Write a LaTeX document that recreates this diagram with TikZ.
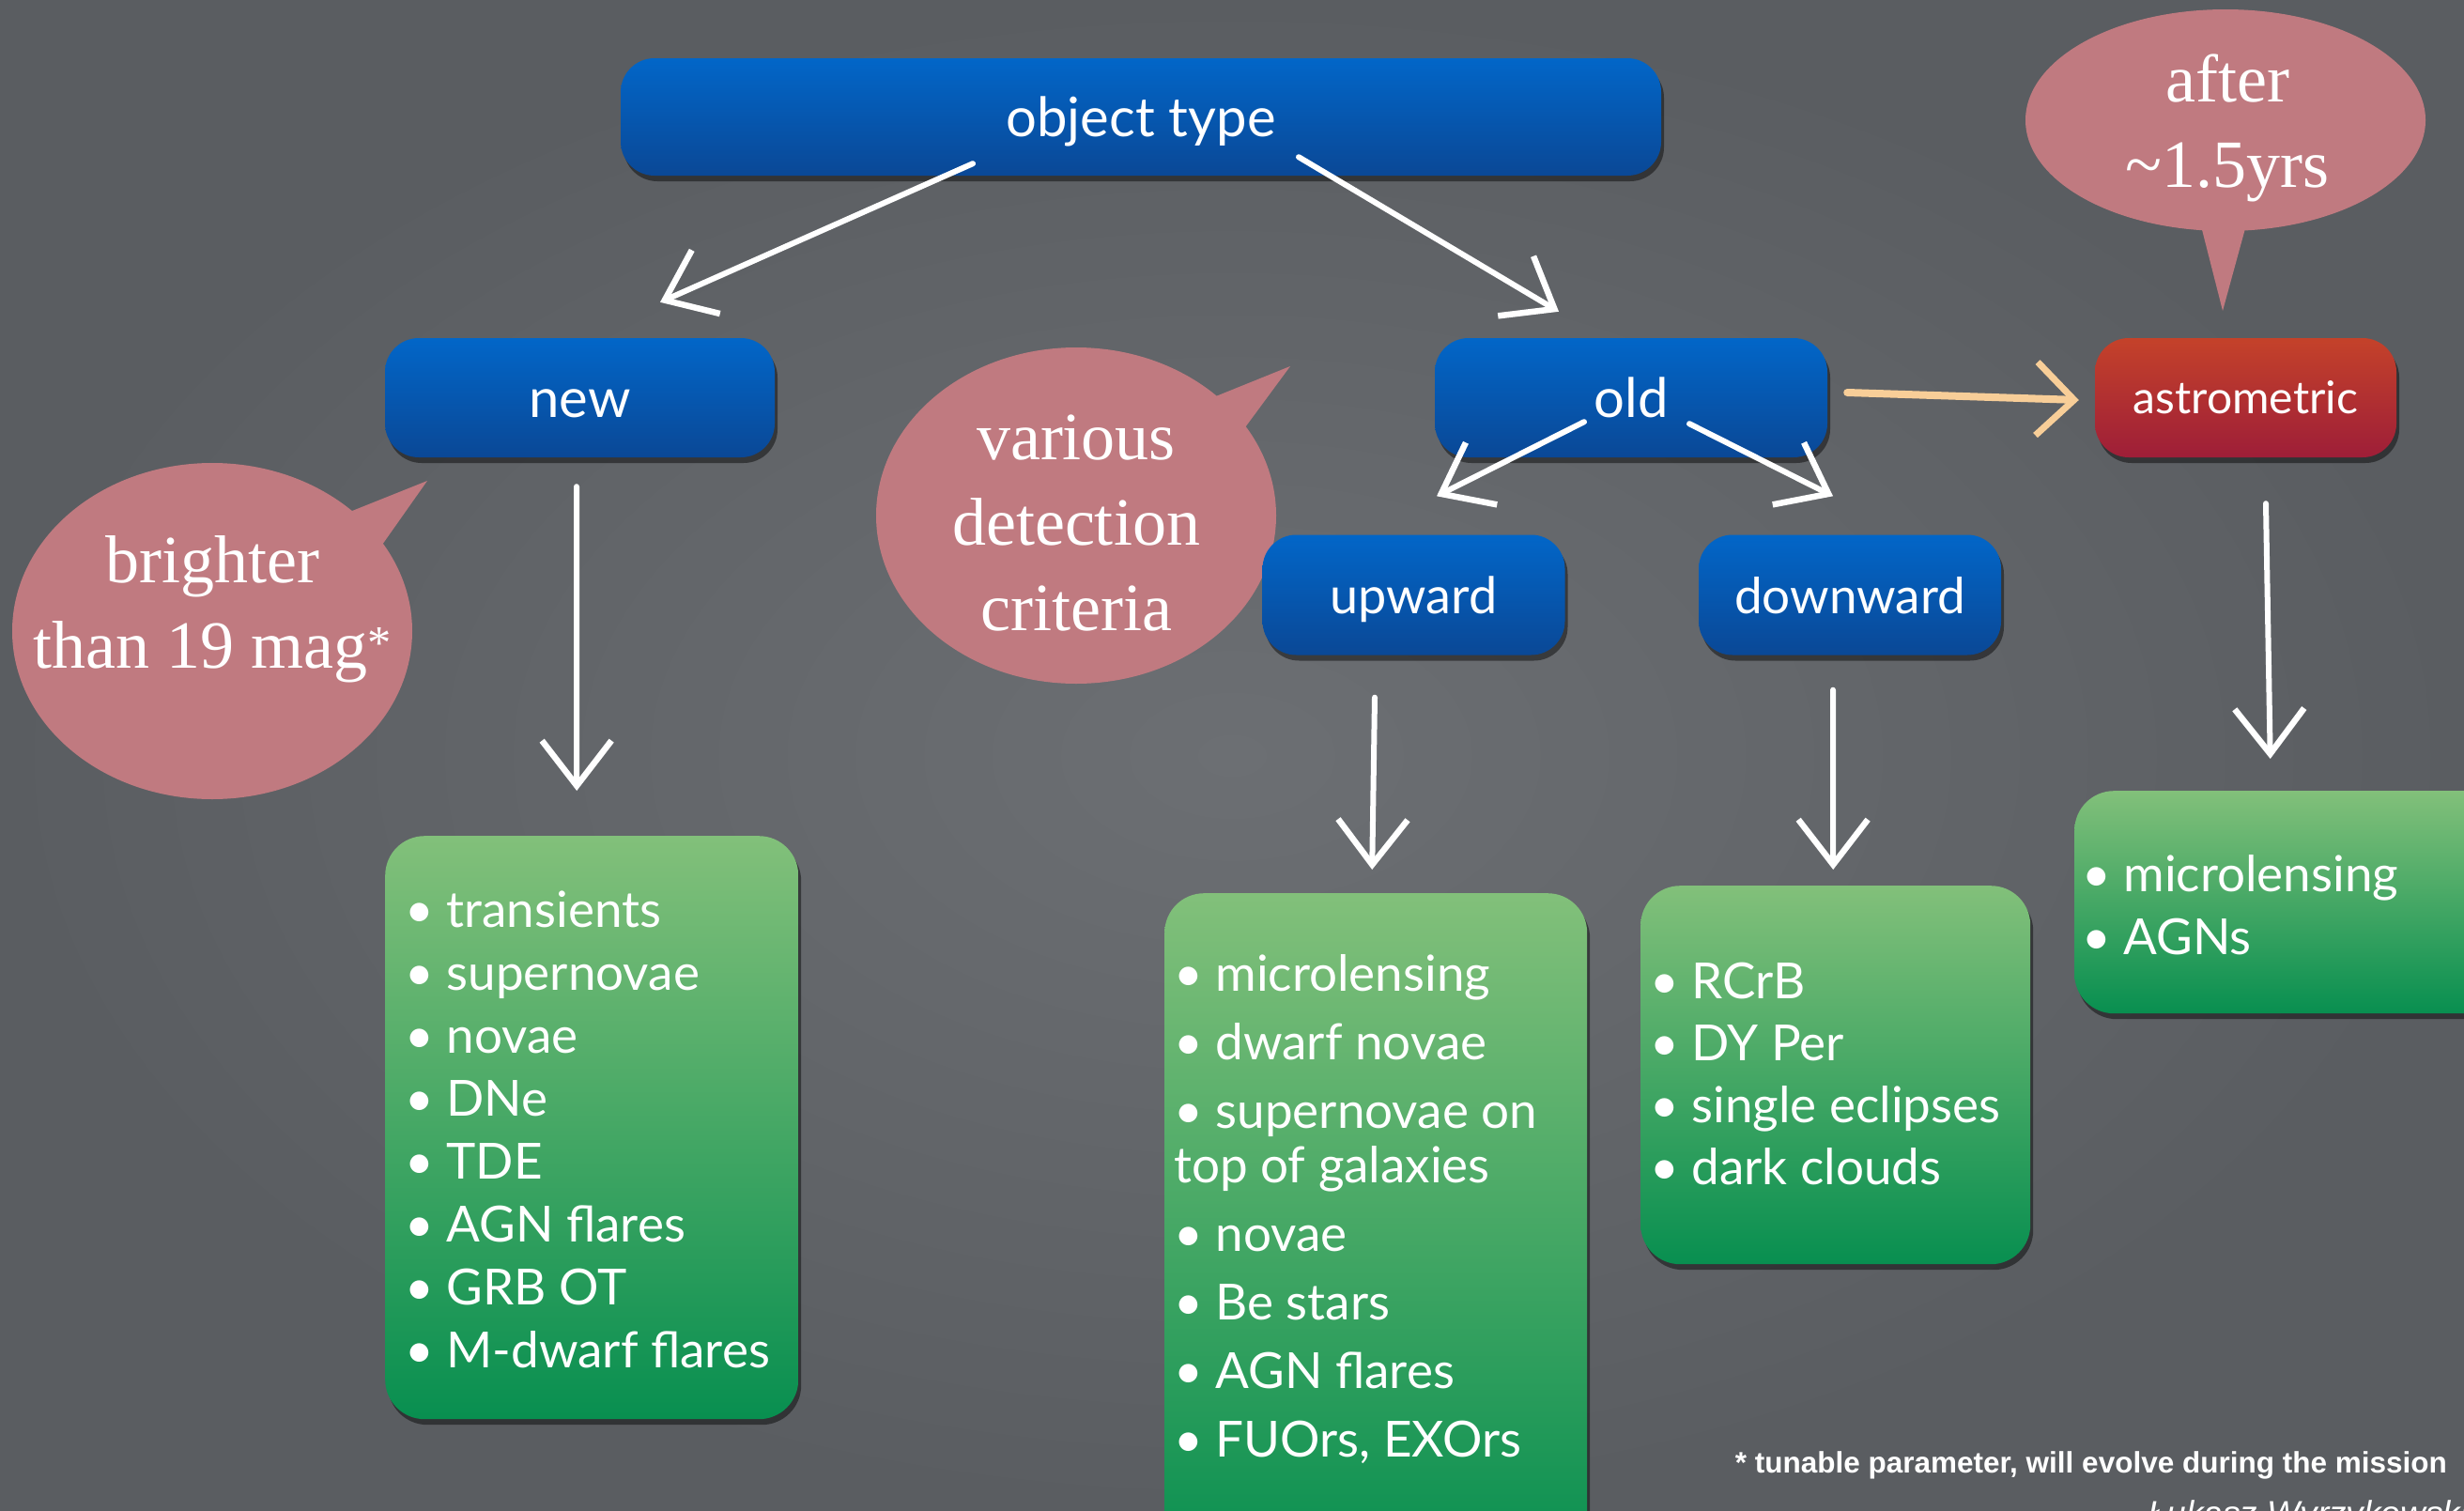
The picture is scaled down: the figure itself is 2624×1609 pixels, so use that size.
\documentclass[tikz,border=0pt]{standalone}
\usepackage{fontspec}
\setmainfont{Liberation Serif}
\newfontfamily\boxfont{Lato}
\newfontfamily\notefont{Liberation Sans}
\usetikzlibrary{arrows.meta,shadows,calc,shapes.geometric}
\definecolor{bgin}{RGB}{108,111,115}
\definecolor{bgout}{RGB}{90,93,97}
\definecolor{blueT}{RGB}{2,102,200}
\definecolor{blueB}{RGB}{10,72,150}
\definecolor{redT}{RGB}{196,66,42}
\definecolor{redB}{RGB}{158,30,56}
\definecolor{greenT}{RGB}{130,192,122}
\definecolor{greenB}{RGB}{8,143,80}
\definecolor{bubble}{RGB}{192,122,128}
\definecolor{peach}{RGB}{248,206,152}
\newcommand{\leftlines}[1]{\begin{tabular}[t]{@{}l@{}}#1\end{tabular}}
\newcommand{\centerlines}[1]{\begin{tabular}[t]{@{}c@{}}#1\end{tabular}}
\begin{document}
\begin{tikzpicture}[x=1pt,y=-1pt,
  shadowed/.style={drop shadow={shadow xshift=3pt,shadow yshift=-6pt,opacity=0.45,fill=black}},
  bluebox/.style={shadowed,rounded corners=36pt,top color=blueT,bottom color=blueB,draw=none,
    text=white,inner sep=0pt,text height=42pt,text depth=0pt,font=\boxfont\fontsize{58}{64}\selectfont},
  redbox/.style={shadowed,rounded corners=36pt,top color=redT,bottom color=redB,draw=none,
    text=white,inner sep=0pt,text height=34pt,text depth=0pt,font=\boxfont\fontsize{48}{54}\selectfont},
  greenbox/.style={shadowed,rounded corners=42pt,top color=greenT,bottom color=greenB,draw=none,inner sep=0pt},
  listtext/.style={text=white,inner sep=0pt,anchor=base west,font=\boxfont\fontsize{53}{67}\selectfont},
  bubblebox/.style={ellipse,fill=bubble,draw=none,inner sep=0pt,minimum width=426pt},
  bubbletext/.style={text=white,inner sep=0pt,anchor=base,font=\fontsize{72}{91}\selectfont},
  chalk/.style={draw=white,line width=6pt,line cap=round,
    -{Straight Barb[length=48pt,width=74pt,line width=6.5pt]}},
  orangechalk/.style={draw=peach,line width=8pt,line cap=round,
    -{Straight Barb[length=40pt,width=78pt,line width=7pt]}}]
% background
\shade[inner color=bgin,outer color=bgout] (0,0) rectangle (2624,1609);
\useasboundingbox (0,0) rectangle (2624,1609);

% bubbles
\node[bubblebox,minimum height=358pt] (bub1) at (226,672) {};
\fill[bubble] (455,512) -- ($(bub1.center)+(134,-122)$) -- ($(bub1.center)+(174,-82)$) -- cycle;
\node[bubbletext] (bub1t) at (226,620) {\centerlines{brighter\\than 19 mag\textsuperscript{*}}};

\node[bubblebox,minimum height=358pt] (bub2) at (1146,549) {};
\fill[bubble] (1374,390) -- ($(bub2.center)+(129,-119)$) -- ($(bub2.center)+(169,-79)$) -- cycle;
\node[bubbletext] (bub2t) at (1146,489) {\centerlines{various\\detection\\criteria}};

\node[bubblebox,minimum height=236pt] (bub3) at (2370,128) {};
\fill[bubble] (2367,331) -- ($(bub3.center)+(-30,97)$) -- ($(bub3.center)+(26,97)$) -- cycle;
\node[bubbletext] (bub3t) at (2372,108) {\centerlines{after\\\textasciitilde1.5yrs}};

% blue / red boxes
\node[bluebox,minimum width=1108pt,minimum height=125pt] (objtype) at (1215,124.5) {object type};
\node[bluebox,minimum width=415pt,minimum height=127pt] (new) at (617.5,423.5) {new};
\node[bluebox,minimum width=418pt,minimum height=127pt] (old) at (1737,423.5) {old};
\node[redbox,minimum width=321pt,minimum height=127pt] (astro) at (2391.5,423.5) {astrometric};
\node[bluebox,minimum width=322pt,minimum height=128pt,text height=39pt,font=\boxfont\fontsize{54}{60}\selectfont] (upward) at (1505.5,633.5) {upward};
\node[bluebox,minimum width=322pt,minimum height=128pt,text height=39pt,font=\boxfont\fontsize{53}{60}\selectfont] (downward) at (1970,633.5) {downward};

% green list boxes
\node[greenbox,anchor=north west,minimum width=440pt,minimum height=621pt] (newlist) at (410,890) {};
\node[listtext] (newlistt) at (431,987) {\leftlines{• transients\\• supernovae\\• novae\\• DNe\\• TDE\\• AGN flares\\• GRB OT\\• M-dwarf flares}};

\node[greenbox,anchor=north west,minimum width=450pt,minimum height=720pt] (uplist) at (1240,951) {};
\node[listtext,font=\boxfont\fontsize{53}{58}\selectfont] (uplistt) at (1250,1055) {\leftlines{• microlensing\\[15pt]• dwarf novae\\[15pt]• supernovae on\\top of galaxies\\[15pt]• novae\\[15pt]• Be stars\\[15pt]• AGN flares\\[15pt]• FUOrs, EXOrs}};

\node[greenbox,anchor=north west,minimum width=415pt,minimum height=403pt] (downlist) at (1747,943) {};
\node[listtext,font=\boxfont\fontsize{53}{66}\selectfont] (downlistt) at (1757,1063) {\leftlines{• RCrB\\• DY Per\\• single eclipses\\• dark clouds}};

\node[greenbox,anchor=north west,minimum width=460pt,minimum height=237pt] (astrolist) at (2209,842) {};
\node[listtext] (astrolistt) at (2217,949) {\leftlines{• microlensing\\• AGNs}};

% arrows
\draw[chalk] ($(objtype.south)+(-179,-13)$) -- ($(new.north)+(85.5,-38)$);
\draw[chalk] ($(objtype.south)+(168,-20)$) -- ($(old.north)+(-77,-28)$);
\draw[chalk] ($(new.south)+(-3.5,31)$) -- ($(newlist.north)+(-16,-48)$);
\draw[chalk] ($(old.south)+(-50,-38)$) -- ($(upward.north)+(24.5,-41)$);
\draw[chalk] ($(old.south)+(62,-36)$) -- ($(downward.north)+(-18,-41)$);
\draw[chalk] ($(upward.south)+(-41.5,45)$) -- ($(uplist.north)+(-4,-25)$);
\draw[chalk] ($(downward.south)+(-18,37)$) -- ($(downlist.north)+(-2.5,-17)$);
\draw[chalk] ($(astro.south)+(21.5,49)$) -- ($(astrolist.north)+(-21.5,-34)$);
\draw[orangechalk] ($(old.east)+(21,-5.5)$) -- ($(astro.west)+(-17,2.5)$);

% footnote and credit
\node[text=white,inner sep=0pt,anchor=base east,font=\notefont\bfseries\fontsize{31.5}{36}\selectfont] (note) at (2606,1568) {* tunable parameter, will evolve during the mission};
\node[text=white,inner sep=0pt,anchor=north west,font=\notefont\itshape\fontsize{37}{42}\selectfont] (credit) at (2287,1597) {Łukasz Wyrzykowski};
\end{tikzpicture}
\end{document}
